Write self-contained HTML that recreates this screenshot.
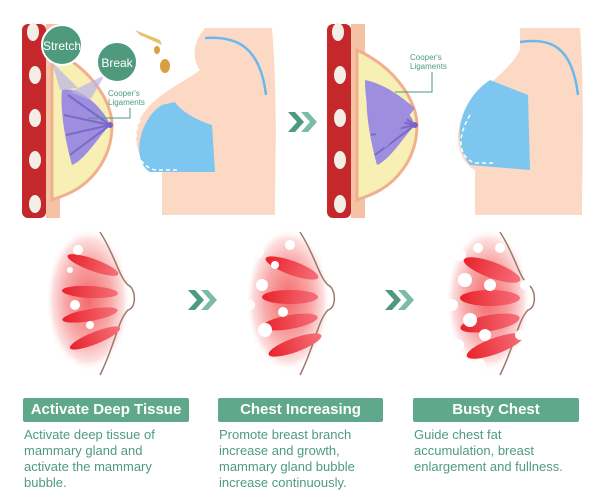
<!DOCTYPE html>
<html><head><meta charset="utf-8"><style>
html,body{margin:0;padding:0;background:#fff;width:600px;height:497px;overflow:hidden}
.lab{position:absolute;height:24px;background:#5fa88c;color:#fff;font:bold 15px "Liberation Sans",sans-serif;text-align:center;line-height:24px;border-radius:2px}
.desc{position:absolute;color:#4f9a85;font:13px/16px "Liberation Sans",sans-serif;width:165px}
</style></head><body>
<svg width="600" height="497" style="position:absolute;left:0;top:0">
<defs>
<radialGradient id="glow" cx="0.5" cy="0.5" r="0.5"><stop offset="0" stop-color="#f46a6a"/><stop offset="0.55" stop-color="#f8a8a8"/><stop offset="0.85" stop-color="#fde0e0"/><stop offset="1" stop-color="#fff" stop-opacity="0"/></radialGradient>
<linearGradient id="gl" x1="0" x2="1"><stop offset="0" stop-color="#e8222a"/><stop offset="1" stop-color="#f6707a"/></linearGradient>
<g id="xs">
<rect x="22" y="24" width="24" height="194" rx="6" fill="#c4282a"/>
<g fill="#f3efe6"><ellipse cx="33" cy="32" rx="6" ry="9"/><ellipse cx="35" cy="75" rx="6" ry="9"/><ellipse cx="35" cy="118" rx="6" ry="9"/><ellipse cx="35" cy="160" rx="6" ry="9"/><ellipse cx="35" cy="204" rx="6" ry="9"/></g>
<rect x="46" y="24" width="14" height="194" fill="#f6c2a6"/>
<path d="M52,50 C95,70 112,105 112,125 C112,160 90,185 65,195 L52,200 Z" fill="#f8efb4" stroke="#f0b090" stroke-width="3"/>
<path d="M62,90 C80,85 105,110 110,125 C100,135 85,160 72,165 C65,140 60,110 62,90 Z" fill="#9d8ee0"/>
<g stroke="#7b69c8" stroke-width="2" fill="none"><path d="M68,95 L110,125"/><path d="M64,115 L110,125"/><path d="M66,135 L110,125"/><path d="M70,155 L110,125"/></g>
<circle cx="110" cy="125" r="3" fill="#7b62c8"/>
</g>
<g id="arr"><path d="M0,0 h7 l9,10 l-9,10 h-7 l9,-10 z" fill="#4f9a7f"/><path d="M13,0 h7 l9,10 l-9,10 h-7 l9,-10 z" fill="#7dbca4"/></g>
<g id="br">
<ellipse cx="-2" cy="0" rx="42" ry="72" fill="url(#glow)"/>
<path d="M10,-68 C25,-45 28,-25 38,-15 C46,-12 47,8 38,10 C28,20 25,45 10,75" fill="none" stroke="#9b7a6a" stroke-width="1.5"/>
</g>
</defs>
<!-- top left -->
<use href="#xs"/>
<circle cx="62" cy="45" r="20" fill="#4f9a7f" stroke="#fff" stroke-width="2"/>
<text x="62" y="50" font-family="Liberation Sans" font-size="12" fill="#fff" text-anchor="middle">Stretch</text>
<path d="M52,62 L60,90 L78,88 Z" fill="#b9b3e6" opacity="0.7"/>
<path d="M105,75 L70,92 L90,100 Z" fill="#b9b3e6" opacity="0.7"/>
<circle cx="117" cy="62" r="20" fill="#4f9a7f" stroke="#fff" stroke-width="2"/>
<text x="117" y="67" font-family="Liberation Sans" font-size="12" fill="#fff" text-anchor="middle">Break</text>
<text x="108" y="96" font-family="Liberation Sans" font-size="8" fill="#4f9a7f">Cooper's</text>
<text x="108" y="105" font-family="Liberation Sans" font-size="8" fill="#4f9a7f">Ligaments</text>
<path d="M130,108 V118 H88" stroke="#4f9a7f" fill="none"/>
<path d="M135,30 L160,40 L162,45 L140,35 Z" fill="#e8c070"/><ellipse cx="157" cy="50" rx="3" ry="4" fill="#d9a040"/><ellipse cx="165" cy="66" rx="5" ry="7" fill="#d9a040"/>
<path d="M205,28 L272,28 C278,100 275,170 275,215 L162,215 L162,172 C140,168 128,140 142,115 C158,92 185,82 200,70 C190,55 195,40 205,28 Z" fill="#fbd9c4"/>
<path d="M162,105 C140,118 130,160 150,172 L215,172 L212,125 C195,120 180,110 175,102 Z" fill="#7cc6ef"/>
<path d="M140,120 C132,140 135,165 155,170 L180,170" fill="none" stroke="#fff" stroke-dasharray="4,3" stroke-width="1.5"/>
<path d="M205,38 C235,36 260,45 266,95" fill="none" stroke="#6bb8ee" stroke-width="2.5"/>
<use href="#arr" x="288" y="112"/>
<!-- top right -->
<use href="#xs" x="305"/>
<path d="M365,80 C390,85 410,105 415,108 C405,120 395,140 385,148 C372,135 365,105 365,80 Z" fill="#9d8ee0"/>
<text x="410" y="60" font-family="Liberation Sans" font-size="8" fill="#4f9a7f">Cooper's</text>
<text x="410" y="69" font-family="Liberation Sans" font-size="8" fill="#4f9a7f">Ligaments</text>
<path d="M432,72 V92 H395" stroke="#4f9a7f" fill="none"/>
<path d="M520,28 L580,28 C585,100 582,170 582,215 L475,215 L475,170 C455,160 452,125 470,105 C490,80 510,70 520,50 Z" fill="#fbd9c4"/>
<path d="M490,80 C460,100 450,140 470,165 L530,170 L528,95 Z" fill="#7cc6ef"/>
<path d="M470,115 C455,140 460,158 475,163 L495,163" fill="none" stroke="#fff" stroke-dasharray="4,3" stroke-width="1.5"/>
<path d="M520,42 C550,38 572,45 578,95" fill="none" stroke="#6bb8ee" stroke-width="2.5"/>
<!-- bottom -->
<use href="#br" x="90" y="300"/>
<use href="#br" x="290" y="300"/>
<use href="#br" x="490" y="300"/>
<g fill="url(#gl)">
<ellipse cx="93" cy="265" rx="27" ry="6" transform="rotate(20 93 265)"/><ellipse cx="90" cy="292" rx="28" ry="6" transform="rotate(3 90 292)"/><ellipse cx="90" cy="315" rx="28" ry="6" transform="rotate(-10 90 315)"/><ellipse cx="95" cy="338" rx="27" ry="6" transform="rotate(-22 95 338)"/>
<ellipse cx="292" cy="268" rx="28" ry="7" transform="rotate(20 292 268)"/><ellipse cx="290" cy="297" rx="28" ry="7"/><ellipse cx="290" cy="322" rx="28" ry="7" transform="rotate(-10 290 322)"/><ellipse cx="295" cy="345" rx="28" ry="7" transform="rotate(-20 295 345)"/>
<ellipse cx="492" cy="270" rx="30" ry="8" transform="rotate(20 492 270)"/><ellipse cx="490" cy="298" rx="30" ry="8"/><ellipse cx="490" cy="323" rx="30" ry="8" transform="rotate(-10 490 323)"/><ellipse cx="495" cy="346" rx="30" ry="8" transform="rotate(-20 495 346)"/>
</g>
<g fill="#fff">
<circle cx="78" cy="250" r="5"/><circle cx="70" cy="270" r="3"/><circle cx="75" cy="305" r="5"/><circle cx="90" cy="325" r="4"/><circle cx="72" cy="362" r="3"/>
<circle cx="258" cy="252" r="6"/><circle cx="275" cy="265" r="4"/><circle cx="262" cy="285" r="6"/><circle cx="250" cy="305" r="5"/><circle cx="265" cy="330" r="7"/><circle cx="255" cy="352" r="5"/><circle cx="280" cy="372" r="6"/><circle cx="290" cy="245" r="5"/><circle cx="283" cy="312" r="5"/>
<circle cx="460" cy="255" r="6"/><circle cx="478" cy="248" r="5"/><circle cx="465" cy="280" r="7"/><circle cx="452" cy="305" r="6"/><circle cx="470" cy="320" r="7"/><circle cx="458" cy="345" r="6"/><circle cx="480" cy="365" r="6"/><circle cx="500" cy="248" r="5"/><circle cx="490" cy="285" r="6"/><circle cx="525" cy="285" r="5"/><circle cx="485" cy="335" r="6"/><circle cx="520" cy="335" r="5"/>
</g>
<use href="#arr" x="188" y="290"/>
<use href="#arr" x="385" y="290"/>
</svg>
<div class="lab" style="left:23px;top:398px;width:166px">Activate Deep Tissue</div>
<div class="lab" style="left:218px;top:398px;width:165px">Chest Increasing</div>
<div class="lab" style="left:413px;top:398px;width:166px">Busty Chest</div>
<div class="desc" style="left:24px;top:427px">Activate deep tissue of mammary gland and activate the mammary bubble.</div>
<div class="desc" style="left:219px;top:427px">Promote breast branch increase and growth, mammary gland bubble increase continuously.</div>
<div class="desc" style="left:414px;top:427px">Guide chest fat accumulation, breast enlargement and fullness.</div>
</body></html>
